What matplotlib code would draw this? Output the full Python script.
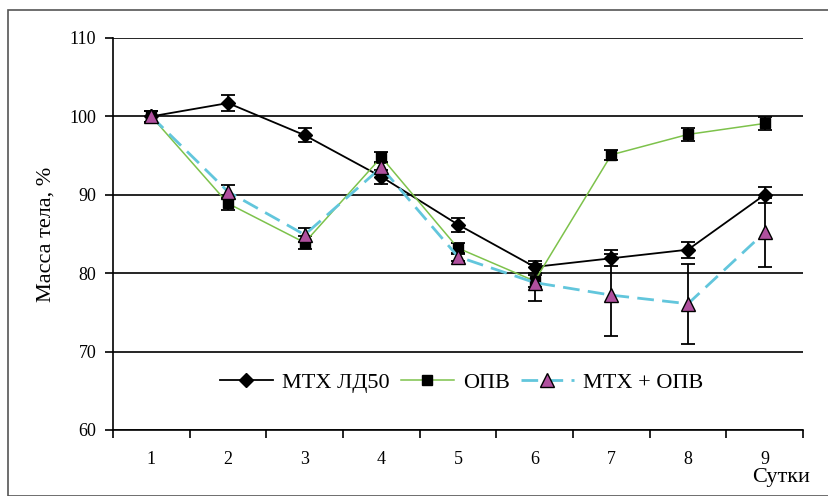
import matplotlib.pyplot as plt
from matplotlib.patches import Rectangle
import numpy as np

days = [1, 2, 3, 4, 5, 6, 7, 8, 9]

mtx_ld50 = [100.0, 101.7, 97.6, 92.3, 86.2, 80.8, 81.9, 83.0, 90.0]
mtx_ld50_err = [0.7, 1.0, 0.9, 0.9, 0.9, 0.8, 1.0, 1.0, 1.0]

opv = [100.0, 88.9, 83.9, 94.8, 83.2, 79.0, 95.1, 97.7, 99.1]
opv_err = [0.7, 0.8, 0.8, 0.7, 0.7, 0.8, 0.6, 0.8, 0.8]

mtx_opv = [100.0, 90.4, 84.9, 93.5, 82.1, 78.8, 77.2, 76.1, 85.2]
mtx_opv_err = [0.7, 0.8, 0.9, 0.7, 0.5, 2.4, 5.2, 5.1, 4.4]

legend_labels = ["МТХ ЛД50", "ОПВ", "МТХ + ОПВ"]

plt.rcParams["font.family"] = ["Liberation Serif", "DejaVu Serif"]

fig = plt.figure(figsize=(8.29, 4.96), dpi=100)
ax = fig.add_axes([0.1363, 0.1331, 0.8323, 0.7903])

# outer frame around the whole picture
fig.patches.append(Rectangle((8 / 829, 0), 1, 1 - 10 / 496, transform=fig.transFigure,
                             fill=False, edgecolor="#555555", linewidth=1.2))

x = np.array(days)

ax.errorbar(x, mtx_ld50, yerr=mtx_ld50_err, fmt="none", ecolor="black",
            elinewidth=1.3, capsize=5, capthick=1.3, zorder=3)
ax.errorbar(x, opv, yerr=opv_err, fmt="none", ecolor="black",
            elinewidth=1.3, capsize=5, capthick=1.3, zorder=3)
ax.errorbar(x, mtx_opv, yerr=mtx_opv_err, fmt="none", ecolor="black",
            elinewidth=1.3, capsize=5, capthick=1.3, zorder=3)

ax.plot(x, mtx_ld50, color="black", linewidth=1.3, marker="D", markersize=7,
        markerfacecolor="black", markeredgecolor="black", label=legend_labels[0], zorder=4)
ax.plot(x, opv, color="#7dc24b", linewidth=1.1, marker="s", markersize=7,
        markerfacecolor="black", markeredgecolor="black", label=legend_labels[1], zorder=4)
ax.plot(x, mtx_opv, color="#62c6dc", linewidth=2, linestyle=(0, (6, 3)), marker="^",
        markersize=10, markerfacecolor="#b0509e", markeredgecolor="black",
        markeredgewidth=1, label=legend_labels[2], zorder=5)

ax.set_xlim(0.5, 9.5)
ax.set_ylim(60, 110)
ax.set_yticks([60, 70, 80, 90, 100, 110])
ax.yaxis.grid(True, color="black", linewidth=1.2)
ax.set_axisbelow(True)

# category axis: ticks between days, labels in the middle
ax.set_xticks(np.arange(0.5, 10.0, 1.0))
ax.set_xticklabels([])
ax.set_xticks(x, minor=True)
ax.set_xticklabels([str(d) for d in days], minor=True)
ax.tick_params(axis="x", which="major", direction="out", length=6, width=1.2)
ax.tick_params(axis="x", which="minor", length=0, pad=15, labelsize=13)
ax.tick_params(axis="y", direction="out", length=6, width=1.2, labelsize=13, pad=6)

for side in ["top", "right"]:
    ax.spines[side].set_visible(False)
ax.spines["left"].set_linewidth(1.2)
ax.spines["bottom"].set_linewidth(1.2)

ax.set_ylabel("Масса тела, %", fontsize=16, labelpad=10)
ax.text(1.01, -0.122, "Сутки", transform=ax.transAxes, ha="right", va="center", fontsize=16)

ax.legend(loc="center", bbox_to_anchor=(0.505, 0.12), ncol=3, frameon=False,
          fontsize=16, handlelength=2.4, columnspacing=0.5, handletextpad=0.4)

fig.savefig("out.png", dpi=100)
